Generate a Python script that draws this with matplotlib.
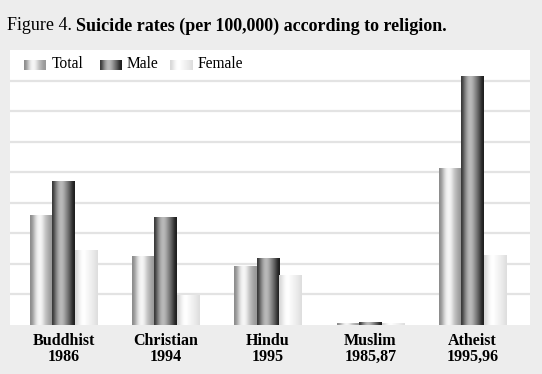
import numpy as np
import matplotlib
matplotlib.use('Agg')
from matplotlib import pyplot as plt

# suicide rates per 100,000
categories = ['Buddhist\n1986', 'Christian\n1994', 'Hindu\n1995', 'Muslim\n1985,87', 'Atheist\n1995,96']
total = [17.9, 11.2, 9.5, 0.3, 25.6]
male = [23.5, 17.6, 10.9, 0.4, 40.7]
female = [12.2, 4.9, 8.1, 0.2, 11.3]
series_names = ['Total', 'Male', 'Female']

# cylinder-like shading for each series (gray levels across the bar)
shades = {
    'Total': [0.55, 0.66, 0.82, 0.93, 0.97, 0.95, 0.86, 0.76, 0.7, 0.63, 0.6],
    'Male': [0.22, 0.42, 0.58, 0.7, 0.74, 0.68, 0.58, 0.47, 0.36, 0.22, 0.12],
    'Female': [0.84, 0.9, 0.96, 1.0, 1.0, 0.98, 0.96, 0.94, 0.92, 0.9, 0.87],
}

W, H = 542, 374
fig = plt.figure(figsize=(W / 100, H / 100), dpi=100)
fig.patch.set_facecolor('#ededed')
serif = ['Liberation Serif', 'DejaVu Serif']

ax = fig.add_axes([10 / W, 1 - 325 / H, 520 / W, 275 / H])
ax.set_facecolor('white')
for s in ax.spines.values():
    s.set_visible(False)

x = np.arange(len(categories))
bw = 0.22
for i, (name, vals) in enumerate(zip(series_names, [total, male, female])):
    bars = ax.bar(x + (i - 1) * bw, vals, bw, facecolor='none', edgecolor='none', zorder=2)
    prof = np.array(shades[name])[np.newaxis, :]
    for b in bars:
        x0, y0 = b.get_x(), b.get_y()
        ax.imshow(prof, extent=[x0, x0 + b.get_width(), y0, y0 + b.get_height()],
                  aspect='auto', cmap='gray', vmin=0, vmax=1,
                  interpolation='bicubic', zorder=2)

ax.set_xlim(-0.523, 4.562)
ax.set_ylim(0, 45)
ax.set_yticks(np.arange(5, 45, 5))
ax.yaxis.grid(True, color='#e3e3e3', linewidth=1.6)
ax.set_axisbelow(True)
ax.tick_params(left=False, bottom=False, labelleft=False)
ax.set_xticks(x)
ax.set_xticklabels(categories, fontfamily=serif, fontweight='bold', fontsize=11.5,
                   linespacing=1.0)
ax.tick_params(axis='x', pad=2.5)

# title: normal prefix + bold remainder
t1 = fig.text(7 / W, 1 - 26 / H, 'Figure 4. ', fontfamily=serif, fontsize=13,
              va='center', ha='left')
fig.canvas.draw()
bb = t1.get_window_extent()
fig.text(bb.x1 / W, 1 - 26 / H, 'Suicide rates (per 100,000) according to religion.',
         fontfamily=serif, fontsize=13, fontweight='bold', va='center', ha='left')

# legend with shaded swatches
for name, px, tx in [('Total', 23.5, 52), ('Male', 100, 127), ('Female', 170, 198)]:
    lax = fig.add_axes([px / W, 1 - 70 / H, 22 / W, 10 / H])
    lax.imshow(np.array(shades[name])[np.newaxis, :], aspect='auto', cmap='gray',
               vmin=0, vmax=1, interpolation='bicubic')
    lax.axis('off')
    fig.text(tx / W, 1 - 64 / H, name, fontfamily=serif, fontsize=11.2, va='center', ha='left')

fig.savefig('out.png', dpi=100, facecolor=fig.get_facecolor())
